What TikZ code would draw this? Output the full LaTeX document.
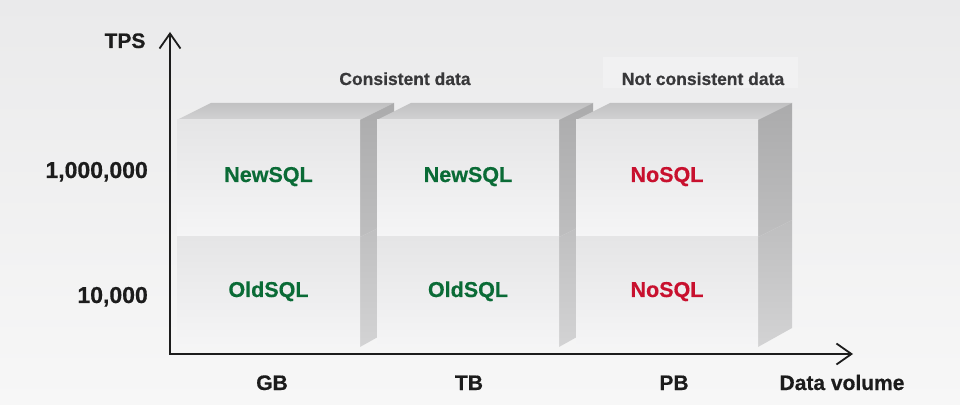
\documentclass[tikz,border=0pt]{standalone}
\usepackage{fontspec}
\setmainfont{Liberation Sans}
\newfontfamily\heavysans[BoldFont={Liberation Sans Bold},BoldFeatures={FakeBold=0.5}]{Liberation Sans}
\usepackage{xcolor}
\usepackage{tikz}
\usetikzlibrary{arrows.meta}
\definecolor{bgtop}{HTML}{EAEAEB}
\definecolor{bgbot}{HTML}{F7F7F7}
\definecolor{hilite}{HTML}{F1F1F2}
\definecolor{facetop}{HTML}{E5E5E6}
\definecolor{facebot}{HTML}{F5F5F6}
\definecolor{lidback}{HTML}{C1C1C2}
\definecolor{lidfront}{HTML}{D2D2D3}
\definecolor{sidetop}{HTML}{ABABAC}
\definecolor{sidemid}{HTML}{BEBEBF}
\definecolor{sidebot}{HTML}{D3D3D4}
\definecolor{sqlgreen}{HTML}{0A6B36}
\definecolor{sqlred}{HTML}{C8102E}
\definecolor{capgray}{HTML}{38383A}
\definecolor{axisink}{HTML}{1C1C1C}
\tikzset{
  axisLine/.style={draw=axisink, line width=2pt, line join=miter,
    {Straight Barb[length=15pt,width=21pt,line width=1.8pt]}-{Straight Barb[length=15pt,width=21pt,line width=1.8pt]}},
  axisLbl/.style={text=axisink, font=\heavysans\fontsize{21}{24}\selectfont\bfseries, anchor=base, inner sep=0pt},
  tickLbl/.style={text=axisink, font=\heavysans\fontsize{23}{26}\selectfont\bfseries, anchor=base east, inner sep=0pt},
  capLbl/.style={text=capgray, font=\heavysans\fontsize{17.5}{20}\selectfont\bfseries, anchor=base, inner sep=0pt},
  greenLbl/.style={text=sqlgreen, font=\heavysans\fontsize{21.5}{24}\selectfont\bfseries, anchor=base, inner sep=0pt},
  redLbl/.style={text=sqlred, font=\heavysans\fontsize{21.5}{24}\selectfont\bfseries, anchor=base, inner sep=0pt},
}
% one block: #1 = left x, #2 = right x of the front face
\newcommand{\SqlBlock}[2]{%
  \shade[top color=lidback, bottom color=lidfront]
    (#1,284) -- (#1+34,301) -- (#2+34,301) -- (#2,284) -- cycle;
  \shade[top color=sidetop, bottom color=sidemid]
    (#2,284) -- (#2+34,301) -- (#2+34,184) -- (#2,167) -- cycle;
  \shade[top color=sidemid, bottom color=sidebot]
    (#2,167) -- (#2+34,184) -- (#2+34,76) -- (#2,57) -- cycle;
  \shade[top color=facetop, bottom color=facebot] (#1,167) rectangle (#2,284);
  \shade[top color=facetop, bottom color=facebot] (#1,57) rectangle (#2,167);
}

\begin{document}
\begin{tikzpicture}[x=1pt, y=1pt]
  \shade[top color=bgtop, bottom color=bgbot] (0,0) rectangle (960,404);
  \useasboundingbox (0,0) rectangle (960,404);

  \fill[hilite] (603,316) rectangle (798,347);

  \SqlBlock{177}{360}
  \SqlBlock{377}{559}
  \SqlBlock{576}{758}

  % axes
  \coordinate (Ytop) at (170,372);
  \coordinate (O) at (170,50);
  \coordinate (Xend) at (853,50);
  \draw[axisLine] (Ytop) -- (O) -- (Xend);

  \node[axisLbl] (tps) at (125,356) {TPS};
  \node[tickLbl] (tpsHigh) at (148,226) {1,000,000};
  \node[tickLbl] (tpsLow)  at (148,101) {10,000};

  \node[axisLbl] (gb) at (272,14) {GB};
  \node[axisLbl] (tb) at (469,14) {TB};
  \node[axisLbl] (pb) at (674,14) {PB};
  \node[axisLbl] (volume) at (842,14) {Data volume};

  \node[capLbl] (consistent)    at (405,319) {Consistent data};
  \node[capLbl] (notConsistent) at (703,319) {Not consistent data};

  \node[greenLbl] (newGb) at (268.5,222) {NewSQL};
  \node[greenLbl] (newTb) at (468,222)   {NewSQL};
  \node[redLbl]   (noPbHigh) at (667,222) {NoSQL};
  \node[greenLbl] (oldGb) at (268.5,107) {OldSQL};
  \node[greenLbl] (oldTb) at (468,107)   {OldSQL};
  \node[redLbl]   (noPbLow) at (667,107) {NoSQL};
\end{tikzpicture}
\end{document}
